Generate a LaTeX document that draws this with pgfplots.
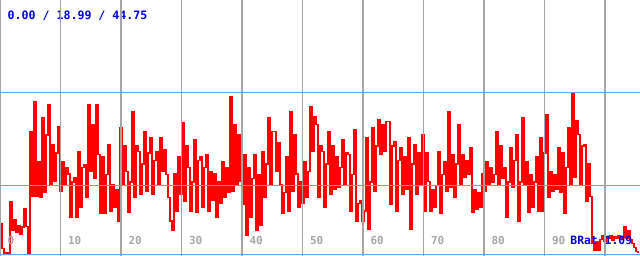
\documentclass[border=0pt]{standalone}
\usepackage{fontspec}
\setmonofont{DejaVu Sans Mono}
\usepackage{pgfplots}
\pgfplotsset{compat=1.18}
\definecolor{gridgrey}{RGB}{165,165,165}
\definecolor{lblue}{RGB}{95,165,245}
\definecolor{tblue}{RGB}{0,0,230}
\definecolor{lgrey}{RGB}{165,165,165}
\begin{document}
\begin{tikzpicture}
\begin{axis}[
 scale only axis, width=320pt, height=128pt,
 xmin=0, xmax=105.8, ymin=-0.5, ymax=70.42,
 axis line style={draw=none},
 xtick={0,10,...,100}, xticklabels={0,10,20,30,40,50,60,70,80,90,{}},
 ytick=\empty,
 extra y ticks={0,18.99,44.75}, extra y tick labels={},
 extra y tick style={ymajorgrids=true},
 xmajorgrids,
 x grid style={gridgrey, line width=0.6pt},
 y grid style={lblue, line width=0.6pt},
 major tick length=0pt,
 /pgf/number format/assume math mode=true,
 xticklabel style={font=\ttfamily\bfseries\fontsize{5.5}{6}\selectfont, text=lgrey, anchor=base west, inner sep=0pt, xshift=3.6pt, yshift=5.5pt},
 axis on top,
]
\addplot[red, line width=0.65pt, const plot, line join=miter] table[header=false, row sep=\\, x expr=\coordindex*0.3306, y index=0] {
8.4\\ 1.5\\ 0.3\\ 0.3\\ 0.3\\ 14.5\\ 6.5\\ 9.5\\ 6.0\\ 8.0\\
5.5\\ 7.5\\ 12.5\\ 7.6\\ 0.3\\ 34.0\\ 16\\ 42.3\\ 16\\ 25.7\\
15.8\\ 37.9\\ 17\\ 33\\ 41.4\\ 19.4\\ 30.4\\ 20.2\\ 28\\ 35.4\\
17.5\\ 25.7\\ 19.4\\ 24\\ 22.2\\ 10.3\\ 20\\ 21.3\\ 10.3\\ 28.5\\
13.1\\ 24\\ 24.9\\ 15.8\\ 41.4\\ 23\\ 36\\ 21\\ 41.4\\ 27.7\\
11.2\\ 26.9\\ 11.2\\ 22\\ 30.4\\ 12.0\\ 19.4\\ 13.1\\ 18\\ 9.2\\
35.1\\ 19.4\\ 30\\ 23.0\\ 11.7\\ 20\\ 39.5\\ 15.8\\ 30\\ 28.5\\
16.7\\ 25\\ 34.0\\ 17.5\\ 28\\ 32.4\\ 16.7\\ 26\\ 28.5\\ 19.4\\
32.4\\ 23.0\\ 29\\ 22\\ 15.8\\ 9.2\\ 6.5\\ 22.2\\ 12.0\\ 26.9\\
16.7\\ 36.5\\ 14.7\\ 30\\ 24.1\\ 12.0\\ 20\\ 31.8\\ 11.7\\ 26\\
26.9\\ 13.1\\ 24\\ 27.7\\ 12.0\\ 23\\ 15\\ 22.2\\ 10.3\\ 20\\
14\\ 25.7\\ 15.8\\ 24\\ 17\\ 43.6\\ 17.5\\ 35.9\\ 19.4\\ 33\\
20.2\\ 13.9\\ 27.7\\ 5.1\\ 24.1\\ 10.3\\ 21\\ 27.7\\ 6.5\\ 22\\
8\\ 28.5\\ 15.8\\ 25\\ 37.9\\ 19.4\\ 34\\ 34.0\\ 23.0\\ 31\\
19.4\\ 11.2\\ 17\\ 26.9\\ 12.0\\ 39.5\\ 17.5\\ 33\\ 22.2\\ 13.1\\
20\\ 14\\ 25.7\\ 15.8\\ 23\\ 40.9\\ 28.5\\ 38\\ 35.9\\ 15.8\\
30\\ 28.5\\ 13.1\\ 25\\ 34.0\\ 16.7\\ 30\\ 18\\ 26.9\\ 18.6\\
24\\ 31.8\\ 19.4\\ 28\\ 27.7\\ 12.0\\ 22\\ 34.6\\ 9.2\\ 14\\
14.7\\ 9.2\\ 12\\ 32.4\\ 7.0\\ 20\\ 35.1\\ 17.5\\ 30\\ 37.3\\
27.7\\ 36\\ 28.5\\ 36.8\\ 36.8\\ 13.9\\ 30\\ 31.3\\ 12.0\\ 26\\
29.6\\ 16.7\\ 27\\ 18\\ 32.4\\ 7.0\\ 25\\ 30.4\\ 16.7\\ 28\\
19\\ 33.2\\ 12.0\\ 28\\ 20.2\\ 12.0\\ 18\\ 13\\ 19\\ 28.5\\
11.2\\ 22\\ 25.7\\ 17.5\\ 39.5\\ 18.6\\ 27.7\\ 15.8\\ 25\\ 35.9\\
19.4\\ 27.7\\ 21.3\\ 26\\ 22\\ 29.6\\ 11.7\\ 18\\ 12.5\\ 17\\
13\\ 22.2\\ 17.5\\ 25.7\\ 19.4\\ 24\\ 20\\ 22\\ 34.0\\ 19.4\\
30\\ 21\\ 24.1\\ 10.3\\ 20\\ 29.6\\ 18.6\\ 26\\ 33.2\\ 9.2\\
20\\ 37.9\\ 19.4\\ 25.7\\ 11.7\\ 22\\ 13\\ 20\\ 26.9\\ 12.0\\
32.4\\ 12.0\\ 28\\ 38.7\\ 15.8\\ 23.0\\ 17.5\\ 22\\ 18\\ 29.6\\
17\\ 28\\ 11.2\\ 24\\ 35.1\\ 19.4\\ 44.75\\ 21.3\\ 37\\ 33.2\\
19.4\\ 30\\ 30.4\\ 14.7\\ 25\\ 16\\ 2.9\\ 1.0\\ 3.5\\ 1.2\\
4.0\\ 5.1\\ 3.5\\ 4.8\\ 4.3\\ 5.1\\ 3.7\\ 4.8\\ 4.3\\ 5.1\\
4.0\\ 4.8\\ 7.6\\ 4.3\\ 6.5\\ 4.0\\ 2.9\\ 1.8\\ 0.8\\ 0.2\\
};
\node[anchor=base west, inner sep=0pt, text=tblue, font=\ttfamily\bfseries\fontsize{5.8}{6}\selectfont, xshift=3.65pt, yshift=-9.65pt] at (rel axis cs:0,1) {0.00 / 18.99 / 44.75};
\node[anchor=base west, inner sep=0pt, text=tblue, font=\ttfamily\bfseries\fontsize{5.7}{6}\selectfont, yshift=5.5pt] at (rel axis cs:0.8906,0) {BRat 1.09};
\end{axis}
\pgfresetboundingbox
\path[use as bounding box] (current axis.south west) rectangle (current axis.north east);
\end{tikzpicture}
\end{document}
